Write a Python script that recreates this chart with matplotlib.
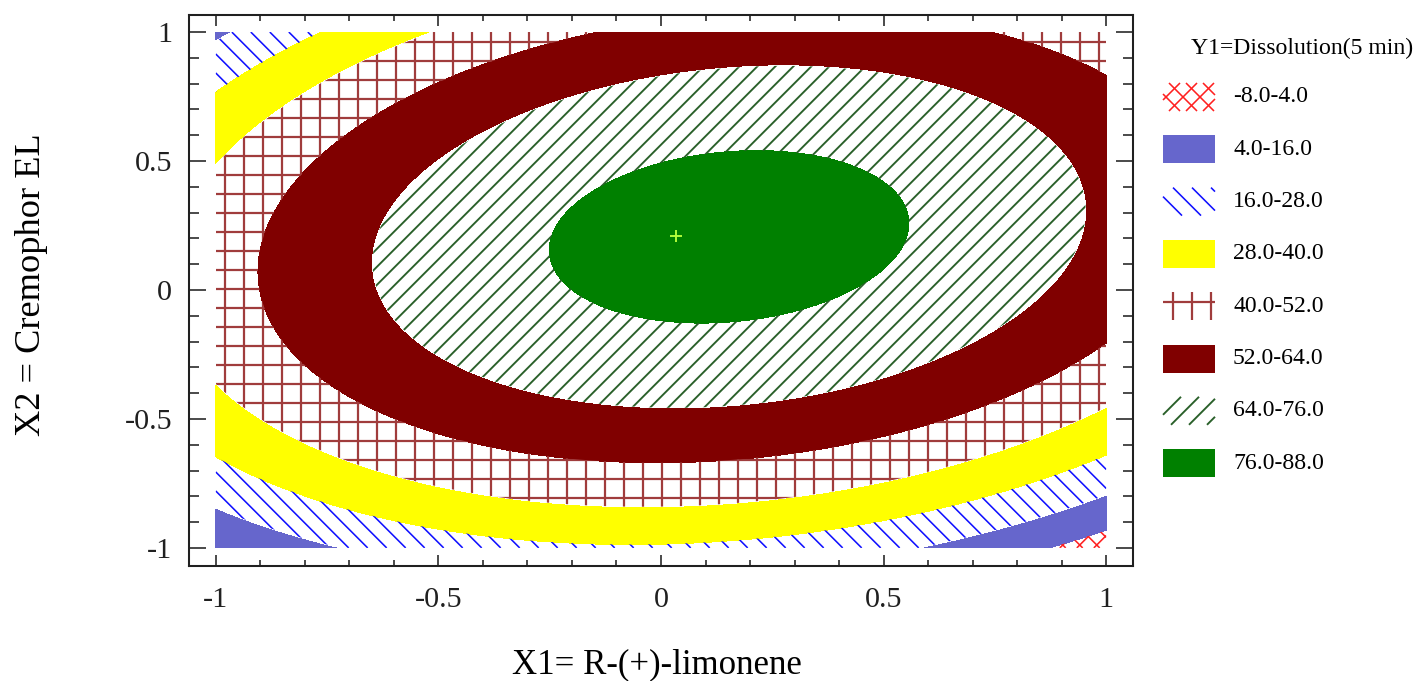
import numpy as np
import matplotlib
matplotlib.use("Agg")
import matplotlib.pyplot as plt
from matplotlib.patches import Rectangle
from matplotlib.collections import LineCollection
from matplotlib.transforms import IdentityTransform
from matplotlib.ticker import MultipleLocator, FixedLocator

# ---------------- data ----------------
# fitted quadratic response-surface coefficients for Y1 = Dissolution (5 min)
b0 = 78.2     # intercept
b1 = 5.9      # X1
b2 = 14.0     # X2
b12 = 9.5     # X1*X2
b11 = -25.7   # X1^2
b22 = -37.5   # X2^2

levels = [-8.0, 4.0, 16.0, 28.0, 40.0, 52.0, 64.0, 76.0, 88.0]
band_labels = ["-8.0-4.0", "4.0-16.0", "16.0-28.0", "28.0-40.0",
               "40.0-52.0", "52.0-64.0", "64.0-76.0", "76.0-88.0"]
fill_colors = ["white", "#6666cc", "white", "#ffff00",
               "white", "#800000", "white", "#008000"]
hatch_kinds = ["x", None, "\\", None, "+", None, "/", None]
hatch_colors = ["#ff2020", None, "#1010ff", None, "#a03c3c", None, "#2a602a", None]
hatch_widths = [1.0, None, 1.0, None, 1.4, None, 1.2, None]      # points
hatch_spacing = [17, None, 19, None, 19, None, 18, None]          # pixels

opt_x1 = [0.034]
opt_x2 = [0.21]

x_ticks = [-1, -0.5, 0, 0.5, 1]
y_ticks = [-1, -0.5, 0, 0.5, 1]
tick_labels = ["-1", "-0.5", "0", "0.5", "1"]
legend_title = "Y1=Dissolution(5 min)"


# ---------------- helpers for hatch lines (pixel space) ----------------
def clip_segment(p, q, box):
    x0, y0, x1, y1 = box
    dx, dy = q[0] - p[0], q[1] - p[1]
    t0, t1 = 0.0, 1.0
    for pp, qq in ((-dx, p[0] - x0), (dx, x1 - p[0]), (-dy, p[1] - y0), (dy, y1 - p[1])):
        if pp == 0:
            if qq < 0:
                return None
        else:
            r = qq / pp
            if pp < 0:
                t0 = max(t0, r)
            else:
                t1 = min(t1, r)
    if t0 > t1:
        return None
    return ((p[0] + t0 * dx, p[1] + t0 * dy), (p[0] + t1 * dx, p[1] + t1 * dy))


def hatch_segments(kind, box, d):
    x0, y0, x1, y1 = box
    h = y1 - y0
    segs = []
    if kind in ('/', 'x'):
        for c in np.arange(x0 - h, x1 + d, d):
            segs.append(((c, y0), (c + h, y1)))
    if kind in ('\\', 'x'):
        for c in np.arange(x0, x1 + h + d, d):
            segs.append(((c, y0), (c - h, y1)))
    if kind == '+':
        for c in np.arange(x0 + d / 2, x1, d):
            segs.append(((c, y0), (c, y1)))
        for c in np.arange(y1 - d / 2, y0, -d):
            segs.append(((x0, c), (x1, c)))
    out = []
    for p, q in segs:
        s = clip_segment(p, q, box)
        if s is not None:
            out.append(s)
    return out


# ---------------- figure ----------------
DPI = 114
W, H = 1418, 681
plt.rcParams['font.family'] = ['Liberation Serif', 'DejaVu Serif']
fig = plt.figure(figsize=(W / DPI, H / DPI), dpi=DPI)
ax = fig.add_axes([189 / W, 1 - 566 / H, (1133 - 189) / W, (566 - 15) / H])
ax.set_xlim(-1.06, 1.06)
ax.set_ylim(-1.07, 1.066)

g = np.linspace(-1, 1, 601)
X1, X2 = np.meshgrid(g, g)
Z = b0 + b1 * X1 + b2 * X2 + b12 * X1 * X2 + b11 * X1 ** 2 + b22 * X2 ** 2

base = ax.contourf(X1, X2, Z, levels=levels, colors=fill_colors, antialiased=False)
band_paths = base.get_paths()

T = ax.transData
px0, py0 = T.transform((g[0], g[0]))
px1, py1 = T.transform((g[-1], g[-1]))
for i, kind in enumerate(hatch_kinds):
    if kind is None or i >= len(band_paths) or len(band_paths[i].vertices) == 0:
        continue
    segs = hatch_segments(kind, (px0, py0, px1, py1), hatch_spacing[i])
    lc = LineCollection(segs, colors=hatch_colors[i], linewidths=hatch_widths[i],
                        transform=IdentityTransform(), antialiased=True)
    ax.add_collection(lc, autolim=False)
    lc.set_clip_path(band_paths[i], T)

ax.plot(opt_x1, opt_x2, ls='none', marker='+', color='#b4ff3c', ms=7.5, mew=1.2)

ax.set_xlim(-1.06, 1.06)
ax.set_ylim(-1.07, 1.066)
ax.xaxis.set_major_locator(FixedLocator(x_ticks))
ax.yaxis.set_major_locator(FixedLocator(y_ticks))
ax.set_xticklabels(tick_labels)
ax.set_yticklabels(tick_labels)
ax.xaxis.set_minor_locator(MultipleLocator(0.1))
ax.yaxis.set_minor_locator(MultipleLocator(0.1))
ax.tick_params(axis='both', which='both', direction='in', top=True, right=True,
               width=1.0, colors='#202020', labelsize=19)
ax.tick_params(axis='x', which='major', length=7, pad=13)
ax.tick_params(axis='x', which='minor', length=3.5)
ax.tick_params(axis='y', which='major', length=10.5, pad=10.5)
ax.tick_params(axis='y', which='minor', length=6.3)
for s in ax.spines.values():
    s.set_linewidth(1.3)
    s.set_color('#202020')

ax.set_xlabel("X1= R-(+)-limonene", fontsize=22, va='center', ha='center')
ax.xaxis.set_label_coords((657 - 189) / (1133 - 189), (566 - 665) / (566 - 15))
ax.set_ylabel("X2 = Cremophor EL", fontsize=23, va='center', ha='center')
ax.yaxis.set_label_coords((32 - 189) / (1133 - 189), (566 - 285) / (566 - 15))

# ---------------- legend (drawn in pixel space) ----------------
hx0, hx1 = 1163, 1215
row0, row_step, hh = 97, 52.3, 28
for i, lab in enumerate(band_labels):
    yc = H - (row0 + i * row_step)
    box = (hx0, yc - hh / 2, hx1, yc + hh / 2)
    if hatch_kinds[i] is None:
        fig.add_artist(Rectangle((hx0, yc - hh / 2), hx1 - hx0, hh, facecolor=fill_colors[i],
                                 edgecolor='none', transform=IdentityTransform()))
    else:
        segs = hatch_segments(hatch_kinds[i], box, hatch_spacing[i])
        fig.add_artist(LineCollection(segs, colors=hatch_colors[i], linewidths=hatch_widths[i],
                                      transform=IdentityTransform()))
    fig.text(1233 / W, yc / H, lab, ha='left', va='center', fontsize=15)

fig.text(1302 / W, 1 - 48 / H, legend_title, ha='center', va='center', fontsize=15)

fig.savefig("out.png", dpi=DPI)
